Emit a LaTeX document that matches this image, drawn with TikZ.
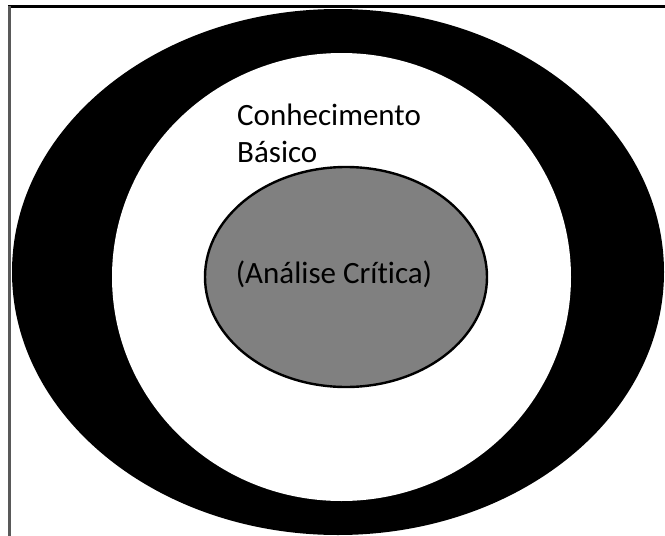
\documentclass[tikz,border=0pt]{standalone}
\usepackage{fontspec}
\setmainfont[Ligatures=NoCommon]{Carlito}
\begin{document}
\begin{tikzpicture}[x=1pt, y=-1pt,
    label text/.style={font=\fontsize{31}{37}\selectfont, inner sep=0pt}]
  \useasboundingbox (0,0) rectangle (665,536);
  % Frame
  \draw[line width=3pt] (8,6) -- (665,6);
  \draw[gray!70!black, line width=2.2pt] (9.5,6) -- (9.5,536);
  % Outer ring
  \fill[black] (338,272) ellipse [x radius=326, y radius=263];
  \fill[white] (341.5,277) ellipse [x radius=229.5, y radius=224];
  % Core
  \draw[line width=2.4pt, fill=gray] (346,277) ellipse [x radius=141, y radius=110];
  % Labels
  \node[label text, anchor=base west] (basic) at (237,125) {Conhecimento};
  \node[label text, anchor=base west] (basic2) at (237,162) {Básico};
  \node[label text] (critical) at (334,274) {(Análise Crítica)};
\end{tikzpicture}
\end{document}
